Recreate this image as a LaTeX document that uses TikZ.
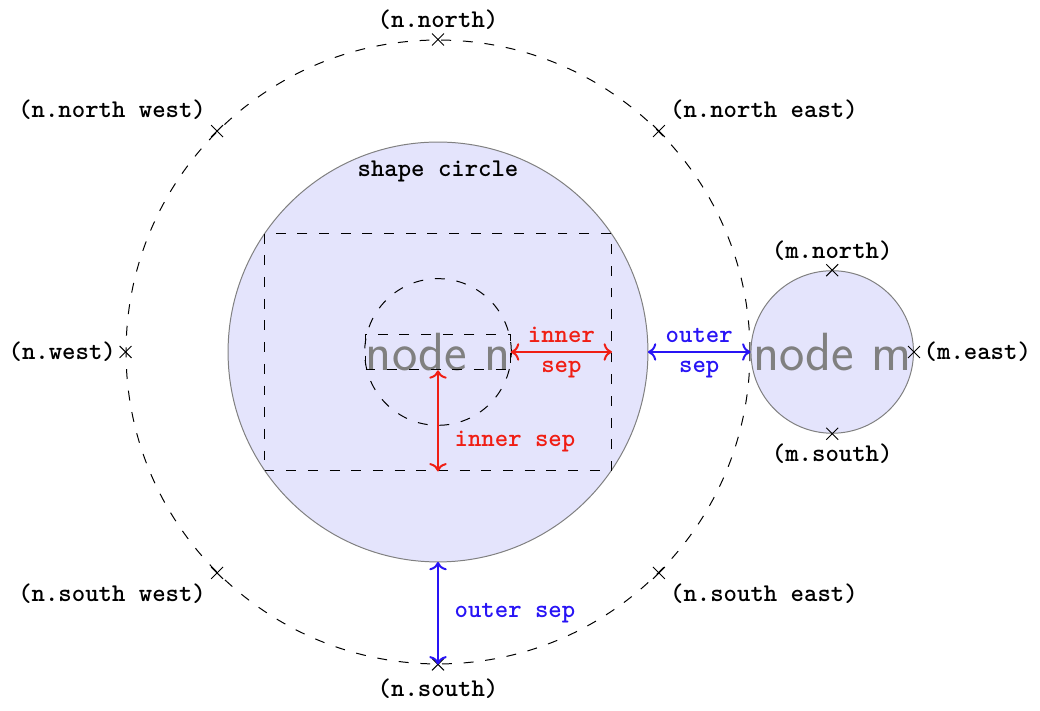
\documentclass[tikz,border=0pt]{standalone}
\usepackage{xcolor}
\usepackage{tikz}
\usetikzlibrary{shapes.misc, positioning, arrows.meta}
\definecolor{SepRed}{RGB}{240,30,20}
\definecolor{SepBlue}{RGB}{40,20,245}
\definecolor{ShapeFill}{RGB}{228,228,252}

\begin{document}
\begin{tikzpicture}[
          shp/.style={circle, draw=black!50, fill=ShapeFill, text=black!50,
                      font=\sffamily\fontsize{21.7pt}{26pt}\selectfont},
          guide/.style={draw, dash pattern=on 4pt off 4.75pt, inner sep=0pt},
          xmark/.style={cross out, draw, minimum size=4.4pt, inner sep=0pt},
          lbl/.style={font=\ttfamily\bfseries\fontsize{10.3pt}{12pt}\selectfont},
          sarr/.style={<->, thick},
          label distance=-2pt
        ]
        \useasboundingbox (-6.213,-5.092) rectangle (8.539,4.993);

        % node n with its inner sep box
        \node[shp, inner sep=1.433cm, outer sep=0pt] (n) at (0,0) {node n};
        \node[lbl, below=4pt] at (n.north) {shape circle};
        \node[guide, minimum width=2.055cm, minimum height=0.507cm] (t) at (0,0) {};
        \node[guide, circle, minimum size=2.08cm] (tc) at (0,0) {};
        \node[guide, minimum width=4.92cm, minimum height=3.374cm] (r) at (0,0) {};

        % outer sep border of n
        \node[guide, circle, minimum size=8.85cm] (o) at (0,0) {};

        % node m
        \node[shp, inner sep=0pt, anchor=west] (m) at (o.east) {node m};

        % anchors
        \node[xmark, label={[lbl]above:(n.north)}] (an) at (o.north) {};
        \node[xmark, label={[lbl]above left:(n.north west)}] (anw) at (o.north west) {};
        \node[xmark, label={[lbl]above right:(n.north east)}] (ane) at (o.north east) {};
        \node[xmark, label={[lbl]left:(n.west)}] (aw) at (o.west) {};
        \node[xmark, label={[lbl]below left:(n.south west)}] (asw) at (o.south west) {};
        \node[xmark, label={[lbl]below right:(n.south east)}] (ase) at (o.south east) {};
        \node[xmark, label={[lbl, label distance=0pt]below:(n.south)}] (as) at (o.south) {};
        \node[xmark, label={[lbl]above:(m.north)}] (mn) at (m.north) {};
        \node[xmark, label={[lbl]below:(m.south)}] (ms) at (m.south) {};
        \node[xmark, label={[lbl]right:(m.east)}] (me) at (m.east) {};

        % inner sep
        \draw[sarr, SepRed] (t.east) -- (r.east)
          node[lbl, midway, above] {inner} node[lbl, midway, below] {sep};
        \draw[sarr, SepRed] (t.south) -- (r.south)
          node[lbl, pos=0.7, right=3pt] {inner sep};

        % outer sep
        \draw[sarr, SepBlue] (n.east) -- (o.east)
          node[lbl, midway, above] {outer} node[lbl, midway, below] {sep};
        \draw[sarr, SepBlue] (n.south) -- (o.south)
          node[lbl, midway, right=3pt] {outer sep};
      \end{tikzpicture}
\end{document}
